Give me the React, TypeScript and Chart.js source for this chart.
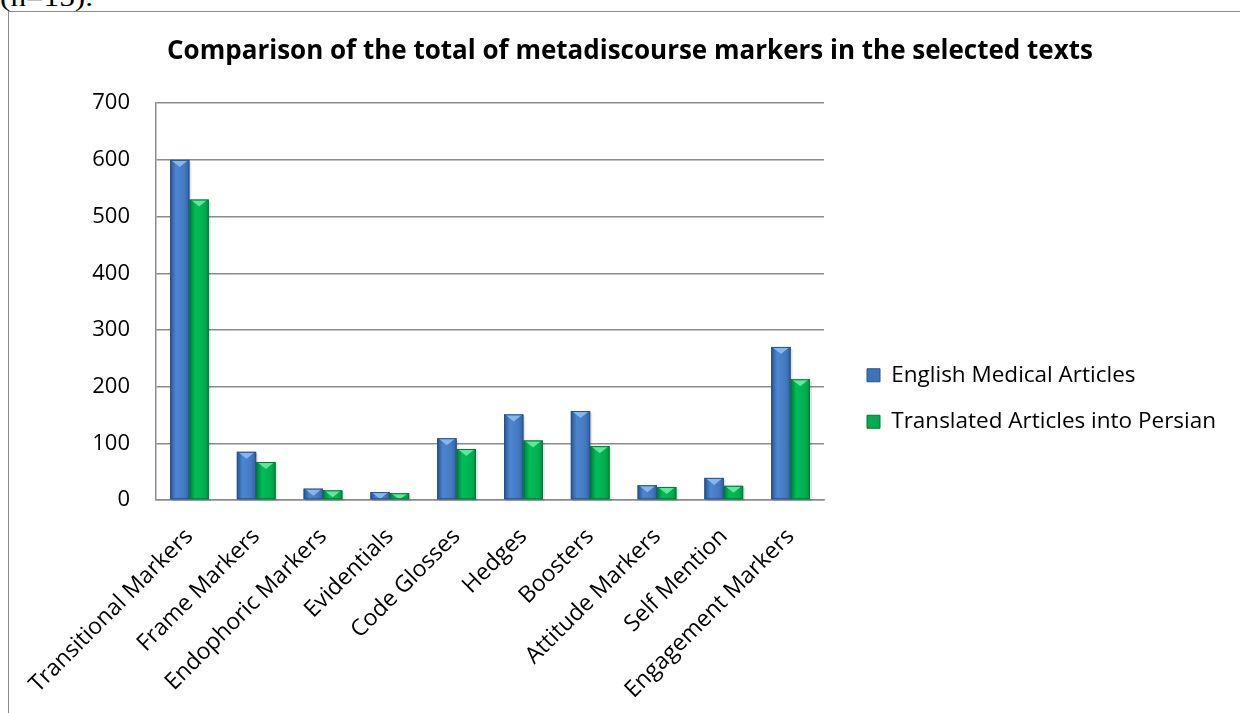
import React, { useEffect, useRef } from 'react';
import { Chart, registerables } from 'chart.js';

Chart.register(...registerables);

const categories = [
  'Transitional Markers',
  'Frame Markers',
  'Endophoric Markers',
  'Evidentials',
  'Code Glosses',
  'Hedges',
  'Boosters',
  'Attitude Markers',
  'Self Mention',
  'Engagement Markers',
];
const englishValues = [600, 85, 20, 14, 109, 151, 157, 26, 39, 270];
const persianValues = [530, 67, 17, 12, 90, 105, 95, 23, 25, 213];
const seriesNames = ['English Medical Articles', 'Translated Articles into Persian'];
const titleText = 'Comparison of the total of metadiscourse markers in the selected texts';
const yMin = 0;
const yMax = 700;
const yStep = 100;

const CANVAS_W = 1260;
const CANVAS_H = 797;
const FONT = '"Open Sans"';

const palettes = [
  { edge: '#27528a', light: '#4b86d2', main: '#4479c0', edge2: '#2f5f9e', cap: '#86b6ef', fill: '#3f73b8' },
  { edge: '#00793a', light: '#00bd58', main: '#00b050', edge2: '#00923f', cap: '#5fe79c', fill: '#00ac4e' },
];

const bevelPlugin = {
  id: 'bevel',
  afterDatasetsDraw(chart: any) {
    const ctx = chart.ctx as CanvasRenderingContext2D;
    chart.data.datasets.forEach((_ds: any, di: number) => {
      const meta = chart.getDatasetMeta(di);
      const pal = palettes[di];
      meta.data.forEach((bar: any) => {
        const { x, y, base, width } = bar.getProps(['x', 'y', 'base', 'width'], true);
        const left = x - width / 2;
        const h = base - y;
        ctx.save();
        ctx.fillStyle = 'rgba(0,0,0,0.10)';
        ctx.fillRect(left + 2, y + 2, width, h);
        const g = ctx.createLinearGradient(left, 0, left + width, 0);
        g.addColorStop(0, pal.edge);
        g.addColorStop(0.3, pal.light);
        g.addColorStop(0.75, pal.main);
        g.addColorStop(1, pal.edge2);
        ctx.fillStyle = g;
        ctx.fillRect(left, y, width, h);
        const th = Math.min(7, h);
        ctx.beginPath();
        ctx.moveTo(left + 1, y);
        ctx.lineTo(left + width - 1, y);
        ctx.lineTo(x, y + th);
        ctx.closePath();
        ctx.fillStyle = pal.cap;
        ctx.fill();
        ctx.strokeStyle = pal.edge;
        ctx.lineWidth = 1;
        ctx.strokeRect(left + 0.5, y + 0.5, width - 1, Math.max(h - 1, 0));
        ctx.restore();
      });
    });
  },
};

const legendWidthPlugin = {
  id: 'legendWidth',
  afterInit(chart: any) {
    const legend = chart.legend;
    if (!legend) return;
    const fit = legend.fit.bind(legend);
    legend.fit = () => {
      fit();
      legend.width = 417;
    };
  },
};

export default function App() {
  const ref = useRef<HTMLCanvasElement>(null);

  useEffect(() => {
    if (!ref.current) return;
    const chart = new Chart(ref.current, {
      type: 'bar',
      data: {
        labels: categories,
        datasets: [
          {
            label: seriesNames[0],
            data: englishValues,
            backgroundColor: palettes[0].fill,
            borderColor: palettes[0].edge,
            borderWidth: 1,
            yAxisID: 'y',
            categoryPercentage: 0.58,
            barPercentage: 1.0,
          },
          {
            label: seriesNames[1],
            data: persianValues,
            backgroundColor: palettes[1].fill,
            borderColor: palettes[1].edge,
            borderWidth: 1,
            yAxisID: 'y',
            categoryPercentage: 0.58,
            barPercentage: 1.0,
          },
        ],
      },
      options: {
        responsive: false,
        animation: false,
        devicePixelRatio: 1,
        layout: { padding: 0 },
        plugins: {
          title: {
            display: true,
            text: titleText,
            color: '#000',
            font: { family: FONT, size: 26, weight: 'bold' },
            padding: { top: 36, bottom: 36 },
          },
          legend: {
            display: true,
            position: 'right',
            align: 'center',
            labels: {
              color: '#000',
              font: { family: FONT, size: 22.5 },
              boxWidth: 13,
              boxHeight: 13,
              padding: 24,
            },
          },
          tooltip: { enabled: false },
        },
        scales: {
          x: {
            grid: { display: false },
            border: { display: true, color: '#8c8c8c', width: 1.5 },
            ticks: {
              color: '#000',
              font: { family: FONT, size: 23 },
              maxRotation: 45,
              minRotation: 45,
              autoSkip: false,
              padding: 15,
            },
            afterFit: (s: any) => {
              s.height = CANVAS_H - 500;
            },
          },
          y: {
            min: yMin,
            max: yMax,
            grid: { color: '#8c8c8c', lineWidth: 1.5, drawTicks: false },
            border: { display: true, color: '#8c8c8c', width: 1.5 },
            ticks: {
              stepSize: yStep,
              color: '#000',
              font: { family: FONT, size: 22 },
              padding: 26,
            },
            afterFit: (s: any) => {
              s.width = 156;
            },
          },
          gap: {
            type: 'linear',
            position: 'right',
            display: true,
            grid: { display: false },
            border: { display: false },
            ticks: { display: false },
            afterFit: (s: any) => {
              s.width = 19;
            },
          },
        },
      } as any,
      plugins: [bevelPlugin, legendWidthPlugin],
    });
    return () => chart.destroy();
  }, []);

  return (
    <div
      style={{
        position: 'fixed',
        left: 0,
        top: 0,
        width: 1240,
        height: 713,
        overflow: 'hidden',
        background: '#fff',
      }}
    >
      <div
        style={{
          position: 'absolute',
          left: 0,
          top: -15,
          fontFamily: '"Liberation Serif", "Times New Roman", serif',
          fontSize: 26,
          lineHeight: '26px',
          whiteSpace: 'nowrap',
          color: '#000',
          transform: 'scaleX(1.2)',
          transformOrigin: 'left top',
        }}
      >
        (n=15).
      </div>
      <div
        style={{
          position: 'absolute',
          left: 8,
          top: 11,
          width: 1400,
          height: 900,
          border: '1.5px solid #8c8c8c',
        }}
      />
      <canvas
        ref={ref}
        width={CANVAS_W}
        height={CANVAS_H}
        style={{ position: 'absolute', left: 0, top: 0, width: CANVAS_W, height: CANVAS_H }}
      />
    </div>
  );
}
